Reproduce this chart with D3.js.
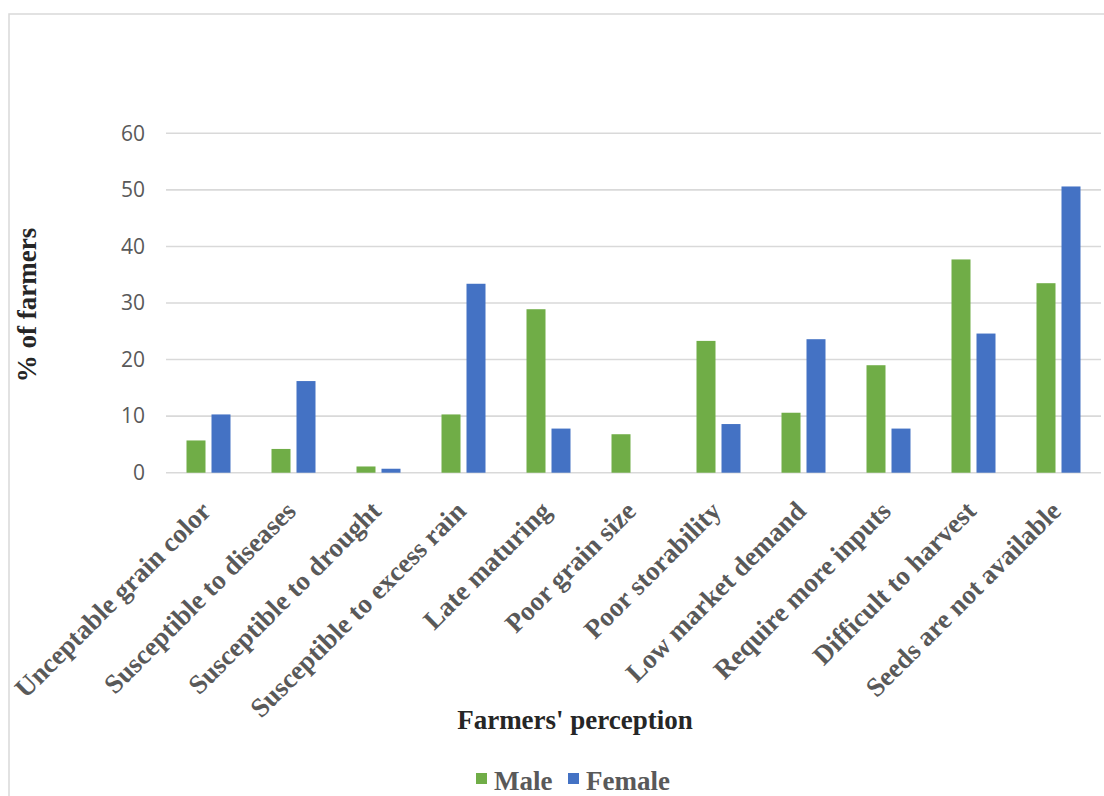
<!DOCTYPE html>
<html>
<head>
<meta charset="utf-8">
<script src="https://cdn.jsdelivr.net/npm/d3@7"></script>
<style>
  html, body { margin: 0; padding: 0; background: #fff; }
  svg { display: block; }
</style>
</head>
<body>
<svg id="chart" width="1104" height="796"></svg>
<script>
const categories = [
  "Unceptable grain color",
  "Susceptible to diseases",
  "Susceptible to drought",
  "Susceptible to excess rain",
  "Late maturing",
  "Poor grain size",
  "Poor storability",
  "Low market demand",
  "Require more inputs",
  "Difficult to harvest",
  "Seeds are not available"
];
const seriesNames = ["Male", "Female"];
const maleValues   = [5.7, 4.2, 1.1, 10.3, 28.9, 6.8, 23.3, 10.6, 19.0, 37.7, 33.5];
const femaleValues = [10.3, 16.2, 0.7, 33.4, 7.8, 0, 8.6, 23.6, 7.8, 24.6, 50.6];
const yTicks = [0, 10, 20, 30, 40, 50, 60];
const colors = ["#70AD47", "#4472C4"];

const svg = d3.select("#chart");
const textGray = "#595959";
const serif = "'Liberation Serif', 'Times New Roman', serif";

// chart border
svg.append("rect")
  .attr("x", 9).attr("y", 14).attr("width", 1120).attr("height", 800)
  .attr("fill", "none").attr("stroke", "#D9D9D9").attr("stroke-width", 1.5);

const x0 = 166, x1 = 1101, yTop = 133.3, yBottom = 472.7;
const x = d3.scaleBand().domain(categories).range([x0, x1]).paddingInner(0).paddingOuter(0);
const y = d3.scaleLinear().domain([0, 60]).range([yBottom, yTop]);
const xs = d3.scaleBand().domain(seriesNames).range([0, 44]).paddingInner(0.24);

// gridlines
svg.append("g")
  .selectAll("line").data(yTicks).join("line")
  .attr("x1", x0).attr("x2", x1)
  .attr("y1", d => y(d)).attr("y2", d => y(d))
  .attr("stroke", "#D9D9D9").attr("stroke-width", 1.6);

// y axis labels
const yAxis = d3.axisLeft(y).tickValues(yTicks).tickSize(0).tickPadding(0);
const gy = svg.append("g").attr("transform", `translate(${x0 - 21},0)`).call(yAxis);
gy.select(".domain").remove();
gy.selectAll("text")
  .attr("fill", textGray)
  .style("font-family", "'Open Sans', sans-serif")
  .style("font-size", "21px");

// bars
const data = categories.map((c, i) => ({ c, vals: [maleValues[i], femaleValues[i]] }));
const groups = svg.append("g").selectAll("g").data(data).join("g")
  .attr("transform", d => `translate(${x(d.c) + x.bandwidth() / 2 - 22},0)`);
groups.selectAll("rect")
  .data(d => d.vals.map((v, j) => ({ s: seriesNames[j], v, j })))
  .join("rect")
  .attr("x", d => xs(d.s))
  .attr("width", xs.bandwidth())
  .attr("y", d => y(d.v))
  .attr("height", d => y(0) - y(d.v))
  .attr("fill", d => colors[d.j]);

// x axis labels (rotated)
const xAxis = d3.axisBottom(x).tickSize(0).tickPadding(0);
const gx = svg.append("g").attr("transform", `translate(0,${yBottom})`).call(xAxis);
gx.select(".domain").remove();
gx.selectAll(".tick text")
  .attr("fill", textGray)
  .style("font-family", serif)
  .style("font-weight", "bold")
  .style("font-size", "27px")
  .attr("text-anchor", "end")
  .attr("dy", null)
  .attr("y", 0)
  .attr("transform", "translate(4,40) rotate(-45)");

// axis titles
svg.append("text")
  .attr("transform", `translate(36,305) rotate(-90)`)
  .attr("text-anchor", "middle")
  .attr("fill", "#262626")
  .style("font-family", serif).style("font-weight", "bold").style("font-size", "27px")
  .text("% of farmers");

svg.append("text")
  .attr("x", 575).attr("y", 729)
  .attr("text-anchor", "middle")
  .attr("fill", "#262626")
  .style("font-family", serif).style("font-weight", "bold").style("font-size", "27px")
  .text("Farmers' perception");

// legend
const legendItems = [
  { name: seriesNames[0], color: colors[0], sx: 476, tx: 494 },
  { name: seriesNames[1], color: colors[1], sx: 568, tx: 586 }
];
const lg = svg.append("g");
lg.selectAll("rect").data(legendItems).join("rect")
  .attr("x", d => d.sx).attr("y", 773).attr("width", 11).attr("height", 11)
  .attr("fill", d => d.color);
lg.selectAll("text").data(legendItems).join("text")
  .attr("x", d => d.tx).attr("y", 790)
  .attr("fill", textGray)
  .style("font-family", serif).style("font-weight", "bold").style("font-size", "27px")
  .text(d => d.name);
</script>
</body>
</html>
